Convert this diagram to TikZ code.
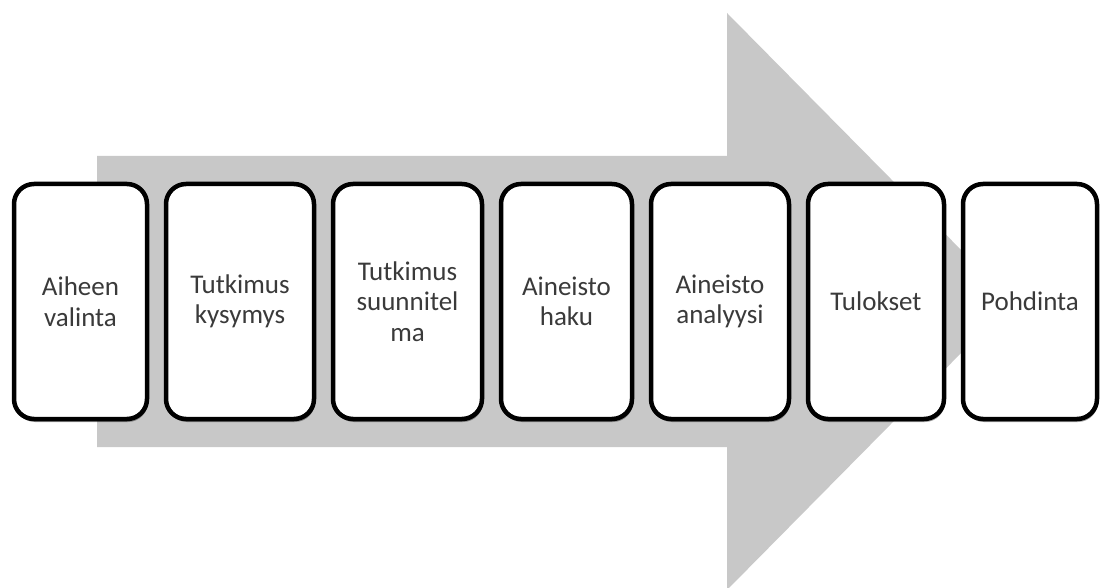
\documentclass[tikz,border=0pt]{standalone}
\usepackage{fontspec}
\setmainfont{Carlito}
\usetikzlibrary{shadows}
\definecolor{arrowgray}{HTML}{C8C8C8}
\definecolor{textgray}{HTML}{3A3A3A}
\begin{document}
\begin{tikzpicture}[x=1pt,y=-1pt,
  stepbox/.style={draw=black, line width=4.5pt, fill=white, rounded corners=20pt,
    minimum height=235pt, inner sep=0pt, align=center, text=textgray,
    font=\fontsize{27}{30.5}\selectfont,
    drop shadow={shadow xshift=1pt, shadow yshift=-3pt, opacity=0.35, fill=black}}]
\useasboundingbox (0,0) rectangle (1101,588);
\fill[arrowgray] (97,156) -- (727,156) -- (727,13) -- (1012,301.5) -- (727,590) -- (727,447) -- (97,447) -- cycle;
\node[stepbox, minimum width=133pt] (b1) at (80.5,301.5) {Aiheen\\valinta};
\node[stepbox, minimum width=148pt] (b2) at (240,301.5) {Tutkimus\\kysymys};
\node[stepbox, minimum width=149pt] (b3) at (407.5,301.5) {Tutkimus\\suunnitel\\ma};
\node[stepbox, minimum width=131pt] (b4) at (566.5,301.5) {Aineisto\\haku};
\node[stepbox, minimum width=138pt] (b5) at (720,301.5) {Aineisto\\analyysi};
\node[stepbox, minimum width=136pt] (b6) at (876,301.5) {Tulokset};
\node[stepbox, minimum width=134pt] (b7) at (1030,301.5) {Pohdinta};
\end{tikzpicture}
\end{document}
